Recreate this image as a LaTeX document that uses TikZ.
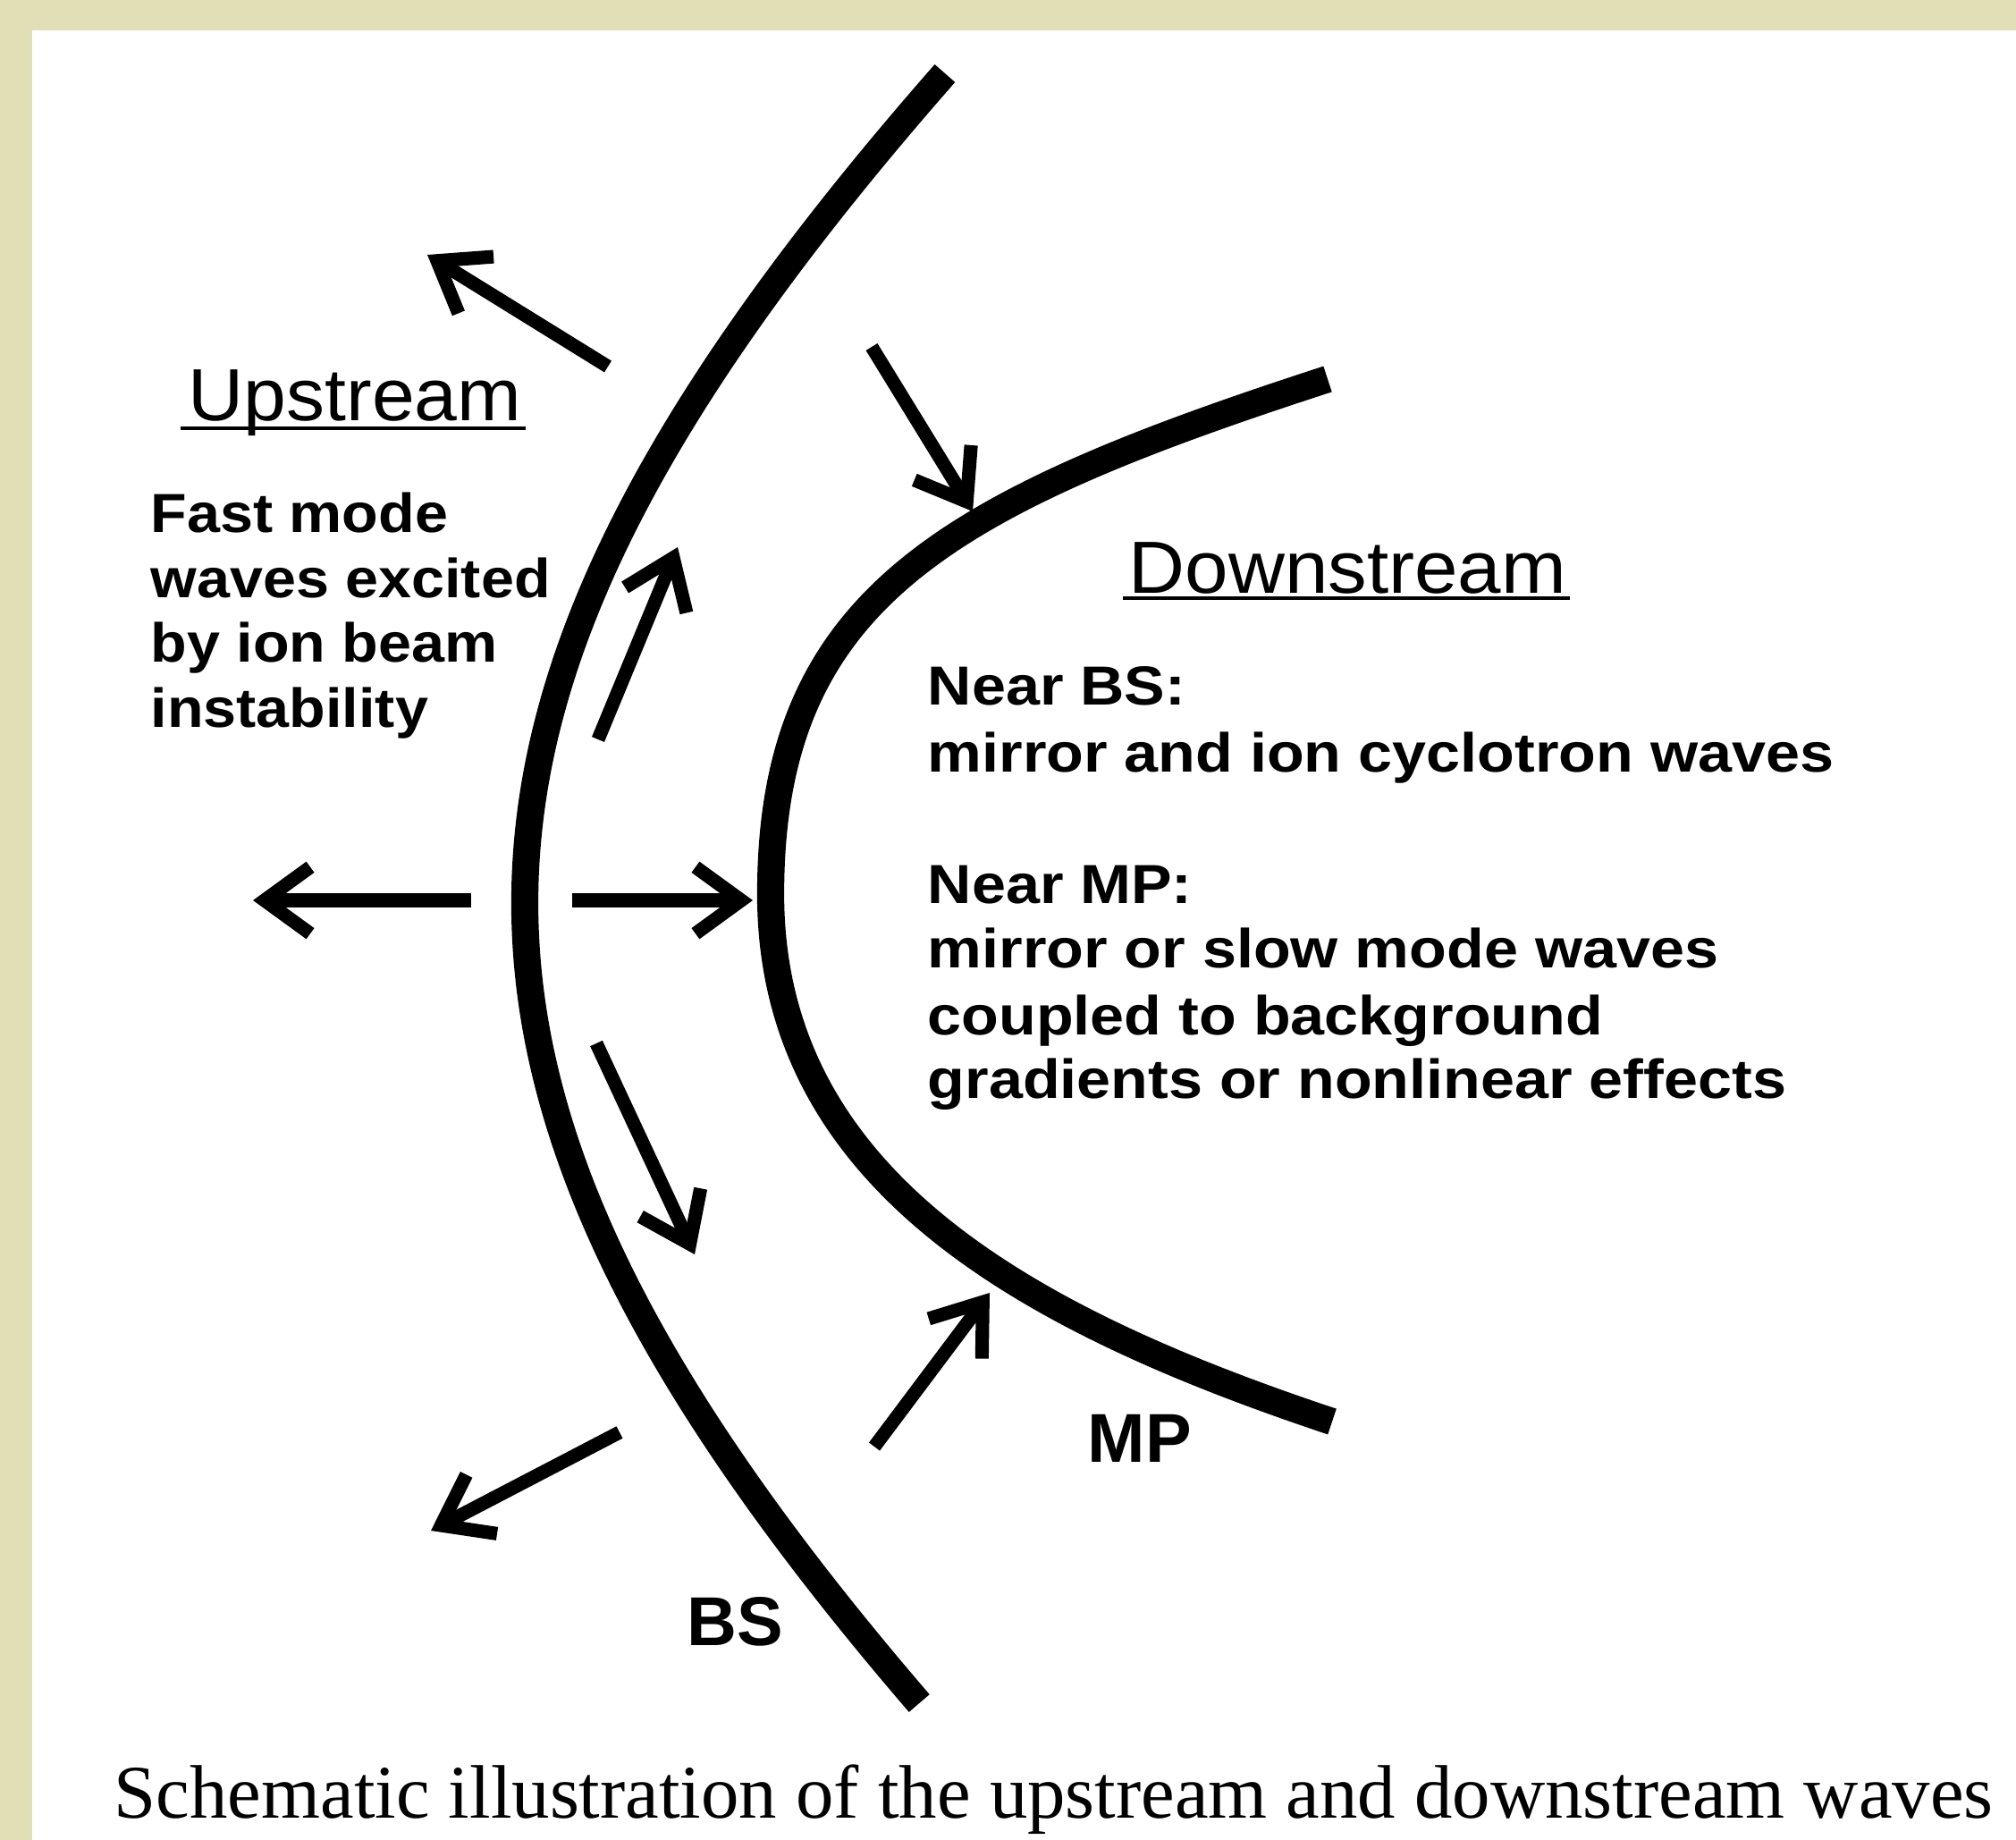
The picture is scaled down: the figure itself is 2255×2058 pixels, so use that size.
\documentclass[tikz,border=0pt]{standalone}
\usepackage{fontspec}
\setmainfont{Liberation Sans}
\newfontfamily\captionserif{Liberation Serif}
\usepackage{graphicx}
\usetikzlibrary{calc,arrows.meta}
\definecolor{FrameBeige}{RGB}{224,223,181}
\newcommand{\widetext}[2]{\scalebox{#1}[1]{#2}}

\tikzset{
  front/.style={line width=8.6pt},
  wave/.style={line width=4.3pt, -{Straight Barb[angle=72:18pt]}},
  heading/.style={font=\fontsize{23.5}{28}\selectfont, inner sep=0pt, anchor=base west},
  bodytext/.style={font=\bfseries\fontsize{17.5}{21}\selectfont, inner sep=0pt, anchor=base west},
  tag/.style={font=\bfseries\fontsize{22}{26}\selectfont, inner sep=0pt, anchor=base west}
}

\begin{document}
\begin{tikzpicture}[x=0.01cm, y=-0.01cm]
    % frame
    \fill[FrameBeige] (0,0) rectangle (2255,2058);
    \fill[white] (36,34) rectangle (2255,2058);

    % bow shock (hyperbola) and magnetopause
    \draw[front] plot[domain=-928:895, samples=90, smooth] ({587+1290*(sqrt(1+(\x/1000)^2)-1)}, {1010+\x});
    \coordinate (mpnose) at (862,1000);
    \draw[front] (1485,424) .. controls (1057,563) and (862,670) .. (mpnose)
                 .. controls (862,1320) and (1148,1476) .. (1490,1590);

    % wave directions
    \draw[wave] (680,410) -- (478,285);
    \draw[wave] (975,388) -- (1088,572);
    \draw[wave] (669,827) -- (758,612);
    \draw[wave] (527,1007) -- (283,1007);
    \draw[wave] (640,1007) -- (842,1007);
    \draw[wave] (667,1167) -- (777,1403);
    \draw[wave] (978,1618) -- (1107,1446);
    \draw[wave] (693,1602) -- (482,1712);

    % upstream side
    \node[heading] (uphead) at (210,470) {\widetext{1.04}{Upstream}};
    \draw[line width=1.2pt] ($(uphead.base west)+(-8,9)$) -- ($(uphead.base east)+(4,9)$);
    \node[bodytext] (up1) at (168,595) {\widetext{1.08}{Fast mode}};
    \node[bodytext] (up2) at (168,668) {\widetext{1.08}{waves excited}};
    \node[bodytext] (up3) at (168,740) {\widetext{1.08}{by ion beam}};
    \node[bodytext] (up4) at (168,813) {\widetext{1.08}{instability}};

    % downstream side
    \node[heading] (downhead) at (1262,663) {\widetext{1.055}{Downstream}};
    \draw[line width=0.9pt] ($(downhead.base west)+(-6,6)$) -- ($(downhead.base east)+(3,6)$);
    \node[bodytext] (bs1) at (1037,788) {\widetext{1.11}{Near BS:}};
    \node[bodytext] (bs2) at (1037,863) {\widetext{1.11}{mirror and ion cyclotron waves}};
    \node[bodytext] (mp1) at (1037,1010) {\widetext{1.11}{Near MP:}};
    \node[bodytext] (mp2) at (1037,1082) {\widetext{1.11}{mirror or slow mode waves}};
    \node[bodytext] (mp3) at (1037,1157) {\widetext{1.11}{coupled to background}};
    \node[bodytext] (mp4) at (1037,1228) {\widetext{1.11}{gradients or nonlinear effects}};

    % boundary names
    \node[tag] (bslabel) at (768,1840) {BS};
    \node[tag] (mplabel) at (1216,1635) {MP};

    \node[font=\captionserif\fontsize{24.1}{28}\selectfont, inner sep=0pt, anchor=base west] (caption) at (127,2033) {Schematic illustration of the upstream and downstream waves};
  \end{tikzpicture}
\end{document}
